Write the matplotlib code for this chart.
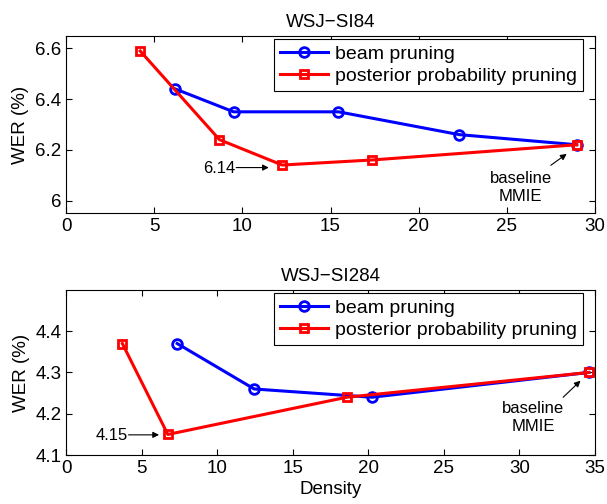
import matplotlib
matplotlib.use("Agg")
import matplotlib.pyplot as plt

plt.rcParams['font.family'] = ['Liberation Sans', 'DejaVu Sans']

# WSJ-SI84
si84_beam_x = [6.2, 9.5, 15.45, 22.3, 28.97]
si84_beam_y = [6.44, 6.35, 6.35, 6.26, 6.22]
si84_post_x = [4.2, 8.7, 12.26, 17.37, 28.97]
si84_post_y = [6.59, 6.24, 6.14, 6.16, 6.22]

# WSJ-SI284
si284_beam_x = [7.35, 12.45, 20.24, 34.6]
si284_beam_y = [4.37, 4.26, 4.24, 4.30]
si284_post_x = [3.72, 6.73, 18.57, 34.6]
si284_post_y = [4.37, 4.15, 4.24, 4.30]

fig = plt.figure(figsize=(6.07, 5.04), dpi=100)
ax1 = fig.add_axes([0.109, 0.577, 0.871, 0.352])
ax2 = fig.add_axes([0.109, 0.097, 0.871, 0.328])

arrow = dict(arrowstyle='-|>', color='black', lw=0.8, mutation_scale=9,
             shrinkA=0, shrinkB=0)


def draw(ax, bx, by, px, py, h):
    ax.plot(bx, by, color='blue', lw=2.2, marker='o', ms=7, mfc='none',
            mew=2, label='beam pruning')
    ax.plot(px, py, color='red', lw=2.2, marker='s', ms=6, mfc='none',
            mew=2, label='posterior probability pruning')
    ax.tick_params(direction='in', top=True, right=True, labelsize=13.5,
                   length=4.5)
    ax.set_ylabel('WER (%)', fontsize=13.5)
    leg = ax.legend(loc='upper right', fontsize=14, fancybox=False,
                    framealpha=1, borderpad=0.3, handlelength=2.5,
                    handletextpad=0.35, labelspacing=0.25, borderaxespad=0,
                    bbox_to_anchor=(1 - 12 / 529, 1 - 3.5 / h))
    leg.get_frame().set_edgecolor('black')
    leg.get_frame().set_linewidth(0.8)


draw(ax1, si84_beam_x, si84_beam_y, si84_post_x, si84_post_y, 177)
ax1.set_xlim(0, 30)
ax1.set_ylim(5.95, 6.65)
ax1.set_yticks([6.0, 6.2, 6.4, 6.6])
ax1.set_yticklabels(['6', '6.2', '6.4', '6.6'])
ax1.set_title('WSJ\u2212SI84', fontsize=13.5)
ax1.text(9.6, 6.128, '6.14', fontsize=12, ha='right', va='center')
ax1.annotate('', xy=(11.5, 6.13), xytext=(9.65, 6.13), arrowprops=arrow)
ax1.annotate('', xy=(28.4, 6.184), xytext=(27.5, 6.139), arrowprops=arrow)
ax1.text(25.8, 6.05, 'baseline\nMMIE', fontsize=12, ha='center',
         va='center', linespacing=1.25)

draw(ax2, si284_beam_x, si284_beam_y, si284_post_x, si284_post_y, 165)
ax2.set_xlim(0, 35)
ax2.set_ylim(4.1, 4.5)
ax2.set_yticks([4.1, 4.2, 4.3, 4.4])
ax2.set_title('WSJ\u2212SI284', fontsize=13.5)
ax2.set_xlabel('Density', fontsize=13.5, labelpad=3)
ax2.text(4.08, 4.148, '4.15', fontsize=12, ha='right', va='center')
ax2.annotate('', xy=(6.15, 4.149), xytext=(4.13, 4.149), arrowprops=arrow)
ax2.annotate('', xy=(34.05, 4.28), xytext=(32.9, 4.24), arrowprops=arrow)
ax2.text(30.9, 4.19, 'baseline\nMMIE', fontsize=12, ha='center',
         va='center', linespacing=1.25)

fig.savefig('out.png', dpi=100)
